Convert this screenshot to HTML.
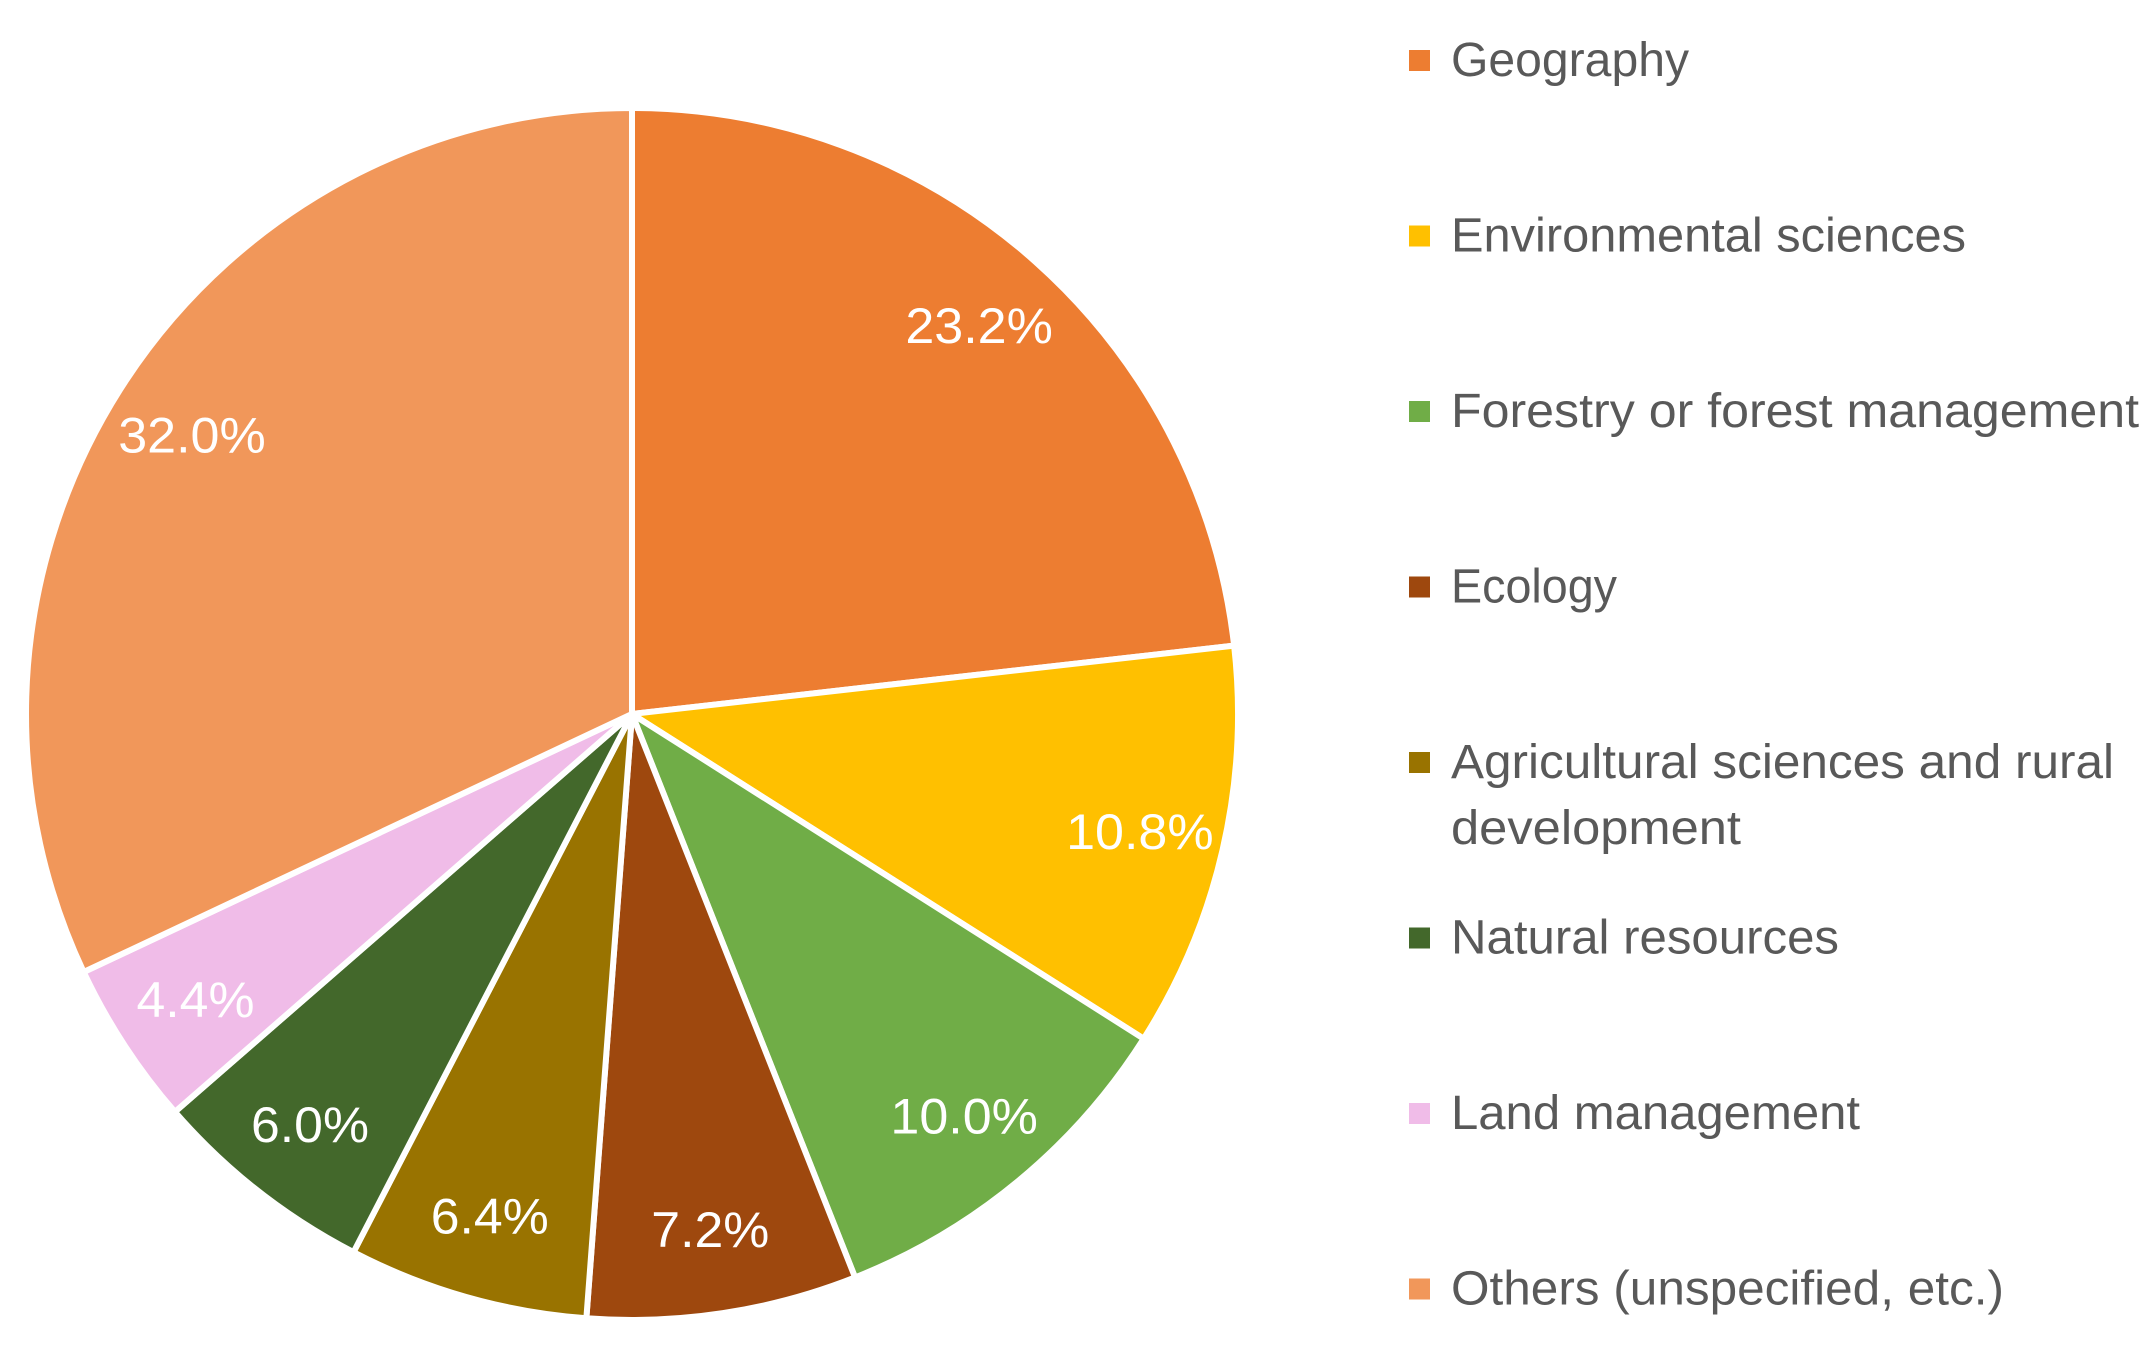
<!DOCTYPE html>
<html><head><meta charset="utf-8"><style>
html,body{margin:0;padding:0;background:#fff;}
svg{display:block;}
text{font-family:"Liberation Sans",sans-serif;}
</style></head><body>
<svg id="chart" width="2156" height="1366" viewBox="0 0 2156 1366" xmlns="http://www.w3.org/2000/svg">
<g id="slices"></g>
<g id="labels"></g>
<g id="legend"></g>
</svg>
<script>
const categories = ["Geography","Environmental sciences","Forestry or forest management","Ecology","Agricultural sciences and rural development","Natural resources","Land management","Others (unspecified, etc.)"];
const values = [23.2,10.8,10.0,7.2,6.4,6.0,4.4,32.0];
const valueLabels = ["23.2%","10.8%","10.0%","7.2%","6.4%","6.0%","4.4%","32.0%"];
const colors = ["#ED7D31","#FFC000","#70AD47","#9E480E","#997300","#43682B","#F0BCE8","#F1975A"];
const legendLines = [["Geography"],["Environmental sciences"],["Forestry or forest management"],["Ecology"],["Agricultural sciences and rural","development"],["Natural resources"],["Land management"],["Others (unspecified, etc.)"]];
const legendWidths = [[238],[515],[688],[166],[663,290],[388],[409],[553]];

const NS="http://www.w3.org/2000/svg";
const cx=632, cy=714, R=606;
const total=values.reduce((a,b)=>a+b,0);
function pt(frac,r){const a=frac*2*Math.PI;return [cx+r*Math.sin(a), cy-r*Math.cos(a)];}
const gS=document.getElementById('slices'), gL=document.getElementById('labels'), gG=document.getElementById('legend');
let acc=0;
values.forEach((v,i)=>{
  const f0=acc/total, f1=(acc+v)/total; acc+=v;
  const p0=pt(f0,R), p1=pt(f1,R);
  const large=(f1-f0)>0.5?1:0;
  const path=document.createElementNS(NS,'path');
  path.setAttribute('d',`M${cx},${cy} L${p0[0]},${p0[1]} A${R},${R} 0 ${large} 1 ${p1[0]},${p1[1]} Z`);
  path.setAttribute('fill',colors[i]);
  path.setAttribute('stroke','#fff');
  path.setAttribute('stroke-width','6');
  path.setAttribute('stroke-linejoin','round');
  
  
  gS.appendChild(path);
  const m=pt((f0+f1)/2,R*0.86);
  const t=document.createElementNS(NS,'text');
  t.setAttribute('x',m[0]); t.setAttribute('y',m[1]+18);
  t.setAttribute('text-anchor','middle');
  t.setAttribute('font-size','50');
  t.setAttribute('fill','#fff');
  t.setAttribute('textLength', String(valueLabels[i].length*29.5));
  t.setAttribute('lengthAdjust','spacingAndGlyphs');
  t.textContent=valueLabels[i];
  
  
  gL.appendChild(t);
  const by=76+i*175.5;
  const sq=document.createElementNS(NS,'rect');
  sq.setAttribute('x',1409); sq.setAttribute('y',by-26); sq.setAttribute('width',21); sq.setAttribute('height',21);
  sq.setAttribute('fill',colors[i]);
  
  
  gG.appendChild(sq);
  legendLines[i].forEach((line,j)=>{
    const lt=document.createElementNS(NS,'text');
    lt.setAttribute('x',1451); lt.setAttribute('y',by+j*66);
    lt.setAttribute('font-size','48');
    lt.setAttribute('fill','#595959');
    lt.setAttribute('textLength',legendWidths[i][j]);
    lt.setAttribute('lengthAdjust','spacingAndGlyphs');
    lt.textContent=line;
    
    
    gG.appendChild(lt);
  });
});
</script>
</body></html>
